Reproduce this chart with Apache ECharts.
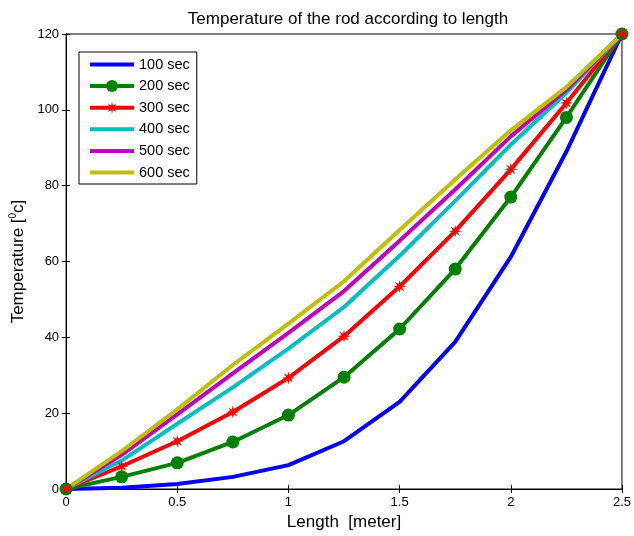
<!DOCTYPE html>
<html>
<head>
<meta charset="utf-8">
<script src="https://cdn.jsdelivr.net/npm/echarts@6/dist/echarts.min.js"></script>
<style>
  html, body { margin: 0; padding: 0; background: #fff; }
  #chart { width: 634px; height: 536px; }
</style>
</head>
<body>
<div id="chart"></div>
<script>
// rod length positions [meter]
const lengths = [0, 0.25, 0.5, 0.75, 1, 1.25, 1.5, 1.75, 2, 2.25, 2.5]
const seriesNames = ['100 sec', '200 sec', '300 sec', '400 sec', '500 sec', '600 sec']
// temperature at each time
const t100 = [0, 0.3, 1.3, 3.2, 6.3, 12.6, 23, 38.8, 61.2, 89, 120]
const t200 = [0, 3.2, 6.9, 12.4, 19.5, 29.5, 42.2, 58, 77, 98, 120]
const t300 = [0, 6, 12.6, 20.3, 29.3, 40.3, 53.4, 68, 84.3, 101.8, 120]
const t400 = [0, 7.5, 17.2, 26.8, 37, 48, 61.5, 76, 90.8, 104.5, 120]
const t500 = [0, 9, 19.7, 30.5, 41.2, 52.2, 65.5, 79, 93, 105.3, 120]
const t600 = [0, 10, 21, 32.7, 43.6, 54.8, 68.3, 81.6, 94.6, 106, 120]

const colors = ['#0000ff', '#008000', '#ff0000', '#00bfbf', '#bf00bf', '#bfbf00']
const font = 'Liberation Sans, Arial, sans-serif'

// asterisk-like marker for the 300 sec curve
const starPath = (() => {
  const pts = []
  for (let i = 0; i < 16; i++) {
    const r = i % 2 === 0 ? 10 : 4
    const a = (Math.PI / 8) * i
    pts.push((r * Math.cos(a)).toFixed(2) + ' ' + (r * Math.sin(a)).toFixed(2))
  }
  return 'path://M' + pts.join(' L') + ' Z'
})()

const pair = (arr) => lengths.map((x, i) => [x, arr[i]])

const makeSeries = (name, data, color, extra) => Object.assign({
  name: name,
  type: 'line',
  data: pair(data),
  symbol: 'none',
  clip: false,
  color: color,
  lineStyle: { width: 4, color: color },
  itemStyle: { color: color },
  emphasis: { disabled: true },
  animation: false
}, extra || {})

// series without markers get a line-only legend icon
const hidden = { color: 'rgba(0,0,0,0)', borderColor: 'rgba(0,0,0,0)', borderWidth: 0 }
const legendData = seriesNames.map((n, i) => (i === 1 || i === 2) ? { name: n } : { name: n, itemStyle: hidden })

const myChart = echarts.init(document.getElementById('chart'))

const axisCommon = {
  axisLine: { show: true, lineStyle: { color: '#000', width: 1 } },
  axisTick: { show: true, inside: true, length: 4, lineStyle: { color: '#000' } },
  splitLine: { show: false }
}

myChart.setOption({
  textStyle: { fontFamily: font },
  title: {
    text: 'Temperature of the rod according to length',
    left: 343,
    top: 6,
    textAlign: 'center',
    textStyle: { fontSize: 17, fontWeight: 'normal', color: '#000', fontFamily: font }
  },
  grid: {
    left: 65,
    right: 12,
    top: 34,
    bottom: 47,
    show: true,
    borderColor: '#000',
    borderWidth: 1,
    backgroundColor: '#fff'
  },
  legend: {
    orient: 'vertical',
    left: 79,
    top: 52,
    padding: [5, 7, 4, 9],
    itemWidth: 44,
    itemHeight: 15,
    itemGap: 6.6,
    backgroundColor: '#fff',
    borderColor: '#000',
    borderWidth: 1,
    borderRadius: 0,
    lineStyle: { width: 4 },
    data: legendData,
    textStyle: { fontSize: 14.5, color: '#000', fontFamily: font }
  },
  xAxis: [
    Object.assign({
      type: 'value',
      min: 0,
      max: 2.5,
      interval: 0.5,
      position: 'bottom',
      name: 'Length  [meter]',
      nameLocation: 'middle',
      nameGap: 24,
      nameTextStyle: { fontSize: 17, color: '#000', fontFamily: font },
      axisLabel: { fontSize: 13, color: '#000', margin: 7, fontFamily: font }
    }, axisCommon),
    Object.assign({
      type: 'value',
      min: 0,
      max: 2.5,
      interval: 0.5,
      position: 'top',
      axisLabel: { show: false }
    }, axisCommon)
  ],
  yAxis: [
    Object.assign({
      type: 'value',
      min: 0,
      max: 120,
      interval: 20,
      position: 'left',
      name: 'Temperature [{sup|0}c]',
      nameLocation: 'middle',
      nameGap: 35,
      nameTextStyle: {
        fontSize: 17,
        color: '#000',
        fontFamily: font,
        rich: {
          sup: { fontSize: 10, color: '#000', fontFamily: font, padding: [0, 0, 10, 0] }
        }
      },
      axisLabel: { fontSize: 13, color: '#000', margin: 7, fontFamily: font }
    }, axisCommon),
    Object.assign({
      type: 'value',
      min: 0,
      max: 120,
      interval: 20,
      position: 'right',
      axisLabel: { show: false }
    }, axisCommon)
  ],
  series: [
    makeSeries(seriesNames[0], t100, colors[0]),
    makeSeries(seriesNames[1], t200, colors[1], { symbol: 'circle', symbolSize: 13, showSymbol: true }),
    makeSeries(seriesNames[2], t300, colors[2], { symbol: starPath, symbolSize: 13, showSymbol: true }),
    makeSeries(seriesNames[3], t400, colors[3]),
    makeSeries(seriesNames[4], t500, colors[4]),
    makeSeries(seriesNames[5], t600, colors[5])
  ]
})
</script>
</body>
</html>
